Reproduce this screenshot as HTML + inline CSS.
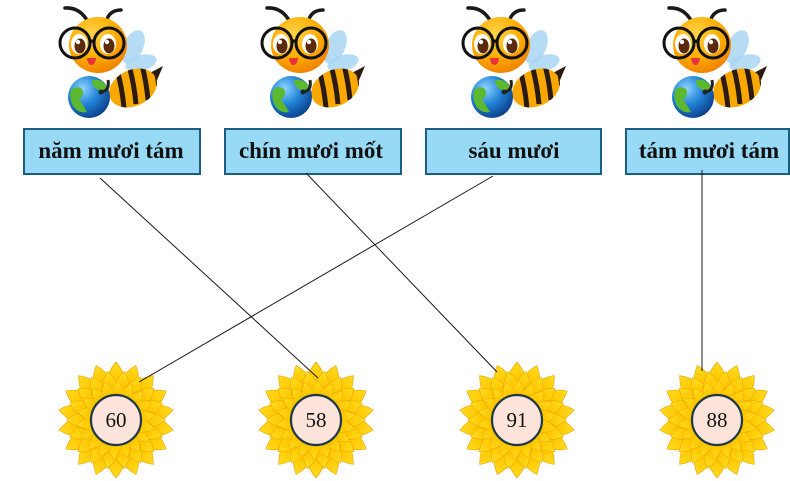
<!DOCTYPE html>
<html><head><meta charset="utf-8">
<style>
html,body{margin:0;padding:0;background:#fff;}
svg{display:block;}
</style></head>
<body>
<svg width="790" height="481" viewBox="0 0 790 481" xmlns="http://www.w3.org/2000/svg" xmlns:xlink="http://www.w3.org/1999/xlink">
<defs>
  <radialGradient id="pg" gradientUnits="userSpaceOnUse" cx="0" cy="0" r="58">
    <stop offset="0" stop-color="#e88600"/>
    <stop offset="0.45" stop-color="#f7ae00"/>
    <stop offset="0.7" stop-color="#ffc800"/>
    <stop offset="1" stop-color="#ffdb22"/>
  </radialGradient>
  <radialGradient id="gg" cx="0.35" cy="0.3" r="0.75">
    <stop offset="0" stop-color="#8fd3ff"/>
    <stop offset="0.5" stop-color="#2284d8"/>
    <stop offset="1" stop-color="#0b3f8a"/>
  </radialGradient>
  <radialGradient id="hg" cx="0.4" cy="0.3" r="0.75">
    <stop offset="0" stop-color="#ffd24a"/>
    <stop offset="0.55" stop-color="#ffae00"/>
    <stop offset="1" stop-color="#ee7d00"/>
  </radialGradient>
  <clipPath id="bodyclip">
    <ellipse cx="95" cy="88" rx="25" ry="18" transform="rotate(-25 95 88)"/>
  </clipPath>

  <path id="petal" d="M-11,-18 Q-14,-42 0,-58 Q14,-42 11,-18 Z" fill="url(#pg)" stroke="#eaa200" stroke-width="0.6"/>
  <g id="tri">
    <use xlink:href="#petal"/>
    <use xlink:href="#petal" transform="rotate(120)"/>
    <use xlink:href="#petal" transform="rotate(240)"/>
  </g>
  <g id="ring">
    <use xlink:href="#tri"/>
    <use xlink:href="#tri" transform="rotate(20)"/>
    <use xlink:href="#tri" transform="rotate(40)"/>
    <use xlink:href="#tri" transform="rotate(60)"/>
    <use xlink:href="#tri" transform="rotate(80)"/>
    <use xlink:href="#tri" transform="rotate(100)"/>
  </g>
  <g id="flower">
    <use xlink:href="#ring"/>
    <use xlink:href="#ring" transform="rotate(10) scale(0.85)"/>
    <use xlink:href="#ring" transform="rotate(3) scale(0.68)"/>
    <circle cx="0" cy="0" r="25" fill="#fce4da" stroke="#1d3a48" stroke-width="2.2"/>
  </g>

  <g id="bee">
    <ellipse cx="95" cy="47" rx="10" ry="18" transform="rotate(25 95 47)" fill="#a9d6f3" opacity="0.85"/>
    <ellipse cx="103" cy="63" rx="16" ry="8" transform="rotate(-15 103 63)" fill="#a9d6f3" opacity="0.85"/>
    <path d="M106,76 L125,66 L114,92 Z" fill="#2a1a10"/>
    <ellipse cx="95" cy="88" rx="25" ry="18" transform="rotate(-25 95 88)" fill="#f9a800"/>
    <g clip-path="url(#bodyclip)" stroke="#2a1a10" stroke-width="5" fill="none">
      <path d="M78,66 Q84,86 86,108"/>
      <path d="M90,62 Q96,82 98,104"/>
      <path d="M102,58 Q108,78 110,100"/>
      <path d="M114,54 Q120,74 122,96"/>
    </g>
    <circle cx="51" cy="97" r="21" fill="url(#gg)"/>
    <path d="M33,90 Q38,85 44,89 Q47,96 41,99 Q45,105 49,112 Q41,114 35,106 Q31,98 33,90 Z" fill="#5cb82e"/>
    <path d="M54,80 Q64,78 69,87 Q64,93 59,89 Q54,87 54,80 Z" fill="#5cb82e"/>
    <path d="M70,80 Q72,91 63,92" stroke="#222" stroke-width="3" fill="none"/>
    <circle cx="63" cy="92" r="2.5" fill="#222"/>
    <path d="M50,22 Q42,7 27,8" stroke="#1a1a1a" stroke-width="3.5" fill="none" stroke-linecap="round"/>
    <path d="M68,22 Q71,10 83,10" stroke="#1a1a1a" stroke-width="3.5" fill="none" stroke-linecap="round"/>
    <ellipse cx="60" cy="45" rx="29" ry="28" fill="url(#hg)"/>
    <ellipse cx="41" cy="44" rx="8" ry="10" fill="#fff"/>
    <ellipse cx="70" cy="44" rx="8" ry="10" fill="#fff"/>
    <ellipse cx="42" cy="46" rx="5.5" ry="7.5" fill="#5b2a0a"/>
    <ellipse cx="71" cy="46" rx="5.5" ry="7.5" fill="#5b2a0a"/>
    <circle cx="40" cy="42" r="2.2" fill="#fff"/>
    <circle cx="69" cy="42" r="2.2" fill="#fff"/>
    <circle cx="37" cy="43" r="15" fill="none" stroke="#111" stroke-width="3"/>
    <circle cx="71" cy="43" r="15" fill="none" stroke="#111" stroke-width="3"/>
    <path d="M52,42 Q54,40 56,42" stroke="#111" stroke-width="3" fill="none"/>
    <path d="M49,58 Q54,58 58,58 Q57,65 53.5,65 Q50,65 49,58 Z" fill="#e8323c"/>
  </g>
</defs>

<use xlink:href="#bee" transform="translate(38,0)"/>
<use xlink:href="#bee" transform="translate(240,0)"/>
<use xlink:href="#bee" transform="translate(441,0)"/>
<use xlink:href="#bee" transform="translate(642,0)"/>

<g fill="#98daf6" stroke="#1a5e80" stroke-width="2">
  <rect x="24" y="129" width="176" height="45"/>
  <rect x="225" y="129" width="176" height="45"/>
  <rect x="426" y="129" width="175" height="45"/>
  <rect x="626" y="129" width="163" height="45"/>
</g>
<g font-family="'Liberation Serif', serif" font-weight="bold" font-size="23" fill="#111" text-anchor="middle">
  <text x="111" y="158">năm mươi tám</text>
  <text x="311" y="158">chín mươi mốt</text>
  <text x="514" y="158">sáu mươi</text>
  <text x="709" y="158">tám mươi tám</text>
</g>

<use xlink:href="#flower" transform="translate(116,420)"/>
<use xlink:href="#flower" transform="translate(316,420)"/>
<use xlink:href="#flower" transform="translate(517,420)"/>
<use xlink:href="#flower" transform="translate(717,420)"/>

<g font-family="'Liberation Serif', serif" font-size="21" fill="#111" text-anchor="middle">
  <text x="116" y="427">60</text>
  <text x="316" y="427">58</text>
  <text x="517" y="427">91</text>
  <text x="717" y="427">88</text>
</g>

<g stroke="#1a1a1a" stroke-width="1" fill="none">
  <line x1="100" y1="178" x2="318" y2="378"/>
  <line x1="306" y1="173" x2="497" y2="372"/>
  <line x1="493" y1="176" x2="139" y2="382"/>
  <line x1="702" y1="170" x2="702" y2="371"/>
</g>
</svg>
</body></html>
